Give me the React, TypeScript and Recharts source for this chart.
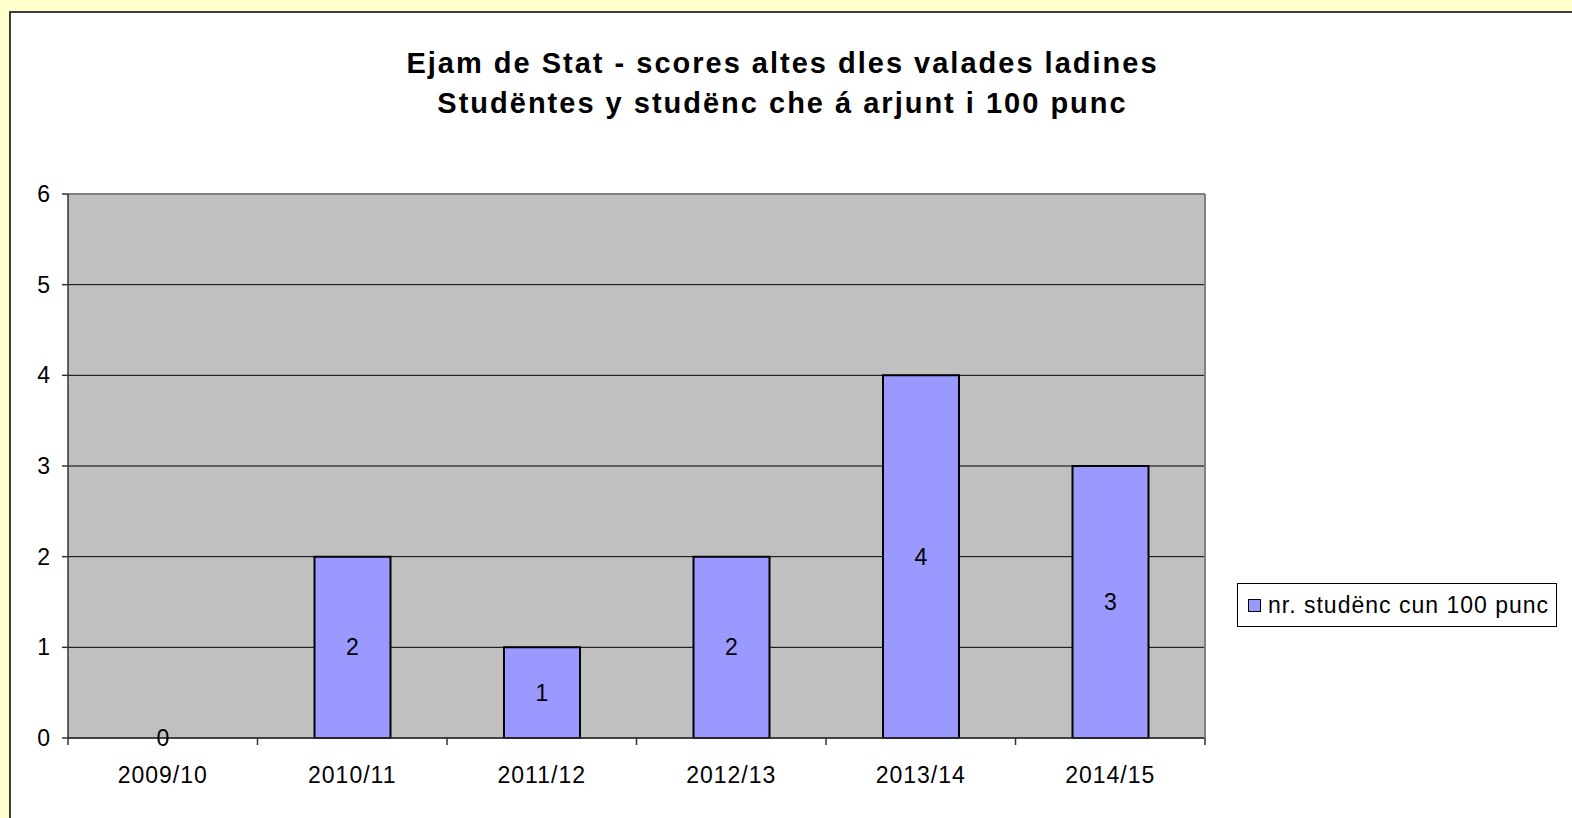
import { BarChart, Bar, XAxis, YAxis, CartesianGrid, LabelList, Cell } from 'recharts';

const seasons = ['2009/10', '2010/11', '2011/12', '2012/13', '2013/14', '2014/15'];
const students = [0, 2, 1, 2, 4, 3];
const yTicks = [0, 1, 2, 3, 4, 5, 6];

const seriesName = 'nr. studënc cun 100 punc';
const titleLines = ['Ejam de Stat - scores altes dles valades ladines', 'Studëntes y studënc che á arjunt i 100 punc'];

const data = seasons.map((season, i) => ({ season, value: students[i] }));

const FONT = '"Liberation Sans", Arial, sans-serif';
const BAR_COLOR = '#9999FF';
const AXIS_COLOR = '#333';
const X_TICK_MARGIN = 29;

// category label plus a tick mark on the band boundary (Excel style)
function SeasonTick(props: any) {
  const { x, y, payload, index } = props;
  const off = payload && payload.offset ? payload.offset : 0;
  const axisY = y - X_TICK_MARGIN;
  const last = index === seasons.length - 1;
  return (
    <g>
      <line x1={x - off} x2={x - off} y1={axisY} y2={axisY + 7} stroke={AXIS_COLOR} strokeWidth={1.5} />
      {last && <line x1={x + off} x2={x + off} y1={axisY} y2={axisY + 7} stroke={AXIS_COLOR} strokeWidth={1.5} />}
      <text x={x} y={y} dy="0.71em" textAnchor="middle" fontSize={23} letterSpacing={1} fill="#000">
        {payload.value}
      </text>
    </g>
  );
}

function LegendBox() {
  return (
    <div
      style={{
        position: 'absolute',
        left: 1237,
        top: 583,
        width: 320,
        height: 44,
        border: '1px solid #000',
        background: '#fff',
        display: 'flex',
        alignItems: 'center',
        boxSizing: 'border-box',
        paddingLeft: 10,
        fontSize: 23,
        letterSpacing: 1,
        color: '#000',
      }}
    >
      <span
        style={{
          display: 'inline-block',
          width: 11,
          height: 11,
          background: BAR_COLOR,
          border: '1.5px solid #000',
          marginRight: 7,
        }}
      />
      <span>{seriesName}</span>
    </div>
  );
}

export default function App() {
  const tickStyle = { fill: '#000', fontSize: 23, letterSpacing: 1 };
  return (
    <div
      style={{
        position: 'absolute',
        left: 0,
        top: 0,
        width: 1572,
        height: 818,
        background: '#FFFFCC',
        overflow: 'hidden',
        fontFamily: FONT,
      }}
    >
      {/* white chart sheet */}
      <div
        style={{
          position: 'absolute',
          left: 9,
          top: 11,
          width: 1600,
          height: 900,
          background: '#fff',
          borderTop: '2px solid #3c3c3c',
          borderLeft: '2px solid #3c3c3c',
        }}
      />

      <div
        style={{
          position: 'absolute',
          left: 0,
          top: 43,
          width: 1565,
          textAlign: 'center',
          fontWeight: 'bold',
          fontSize: 29,
          letterSpacing: 2,
          lineHeight: '40px',
          color: '#000',
        }}
      >
        {titleLines.map((l) => (
          <div key={l}>{l}</div>
        ))}
      </div>

      <div style={{ position: 'absolute', left: 0, top: 0 }}>
        <BarChart width={1572} height={818} data={data} margin={{ top: 193, right: 366, bottom: 79, left: 8 }}>
          <CartesianGrid vertical={false} fill="#C0C0C0" stroke="#000" strokeWidth={1} yAxisId="left" xAxisId="cat" />
          <XAxis
            xAxisId="cat"
            dataKey="season"
            height={1}
            tickLine={false}
            tickSize={0}
            tickMargin={X_TICK_MARGIN}
            tick={<SeasonTick />}
            interval={0}
            stroke={AXIS_COLOR}
            strokeWidth={1.5}
          />
          <XAxis xAxisId="top" orientation="top" dataKey="season" height={1} tick={false} tickLine={false} stroke="#808080" strokeWidth={2} />
          <YAxis
            yAxisId="left"
            domain={[0, 6]}
            ticks={yTicks}
            width={60}
            tickSize={6}
            tickMargin={11}
            stroke={AXIS_COLOR}
            strokeWidth={1.5}
            tick={tickStyle}
          />
          <YAxis yAxisId="right" orientation="right" domain={[0, 6]} width={1} tick={false} tickLine={false} stroke="#808080" strokeWidth={2} />
          <Bar
            xAxisId="cat"
            yAxisId="left"
            dataKey="value"
            name={seriesName}
            fill={BAR_COLOR}
            stroke="#000"
            strokeWidth={2}
            barSize={76}
            minPointSize={1}
            isAnimationActive={false}
          >
            {data.map((d) => (
              <Cell key={d.season} fill={d.value === 0 ? 'none' : BAR_COLOR} stroke={d.value === 0 ? 'none' : '#000'} />
            ))}
            <LabelList dataKey="value" position="center" fill="#000" fontSize={23} />
          </Bar>
        </BarChart>
      </div>

      <LegendBox />
    </div>
  );
}
